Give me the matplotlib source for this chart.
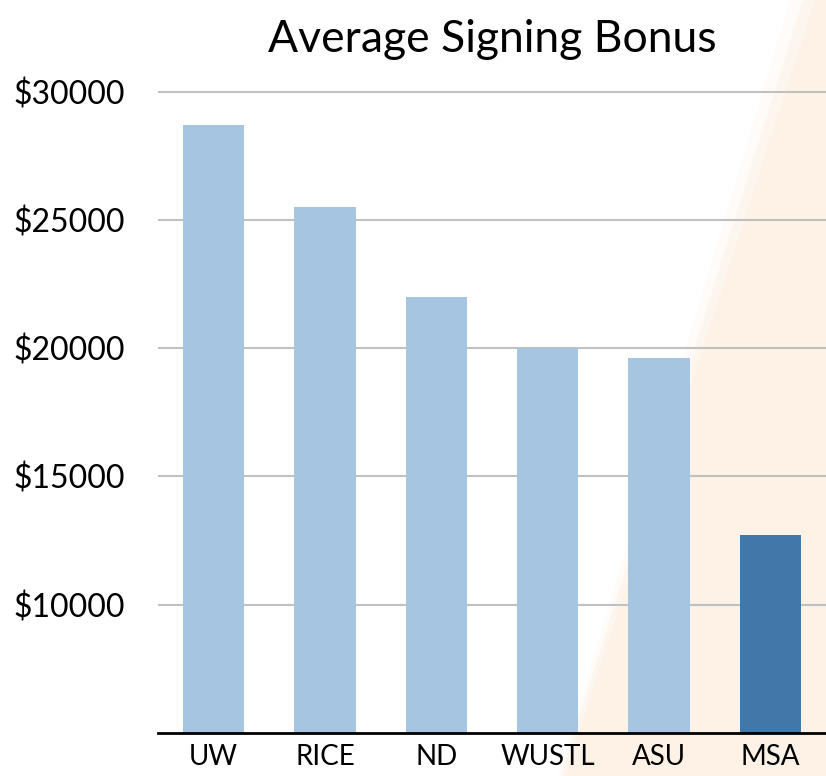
import matplotlib
matplotlib.use('Agg')
import matplotlib.pyplot as plt
from matplotlib.patches import Polygon

# values
schools = ['UW', 'RICE', 'ND', 'WUSTL', 'ASU', 'MSA']
bonus = [28700, 25500, 22000, 20000, 19600, 12700]
y_ticks = [10000, 15000, 20000, 25000, 30000]
y_labels = ['$10000', '$15000', '$20000', '$25000', '$30000']

light_blue = '#a6c5e0'
dark_blue = '#4079a9'
bar_colors = [light_blue] * 5 + [dark_blue]

plt.rcParams['font.family'] = ['Lato', 'DejaVu Sans']

fig = plt.figure(figsize=(8.26, 7.76), dpi=100)

# faint cream wedge in the background on the right side, soft left edge
for shift, alpha in [(0.03, 0.25), (0.015, 0.45), (0.0, 1.0)]:
    wedge = Polygon([(0.987 - shift, 1.0), (1.0, 1.0), (1.0, 0.0), (0.684 - shift * 0.3, 0.0)],
                    closed=True, transform=fig.transFigure,
                    facecolor='#fdf2e5', edgecolor='none', alpha=alpha, zorder=-5)
    fig.patches.append(wedge)

ax = fig.add_axes([0.1913, 0.0554, 0.8087, 0.8595])
ax.patch.set_alpha(0)

ax.bar(range(len(schools)), bonus, width=0.55, color=bar_colors, zorder=3)

ax.set_xlim(-0.5, len(schools) - 0.5)
ax.set_ylim(5000, 31000)
ax.set_yticks(y_ticks)
ax.set_yticklabels(y_labels)
ax.set_xticks(range(len(schools)))
ax.set_xticklabels(schools)

ax.yaxis.grid(True, color='#c0c0c0', linewidth=1.5, zorder=0)
ax.tick_params(axis='y', length=0, pad=24, labelsize=23)
ax.tick_params(axis='x', length=0, pad=8, labelsize=20)

for side in ['top', 'right', 'left']:
    ax.spines[side].set_visible(False)
ax.spines['bottom'].set_linewidth(2)
ax.spines['bottom'].set_color('black')
ax.spines['bottom'].set_zorder(4)

ax.set_title('Average Signing Bonus', fontsize=32, pad=10)

plt.savefig('out.png', dpi=100)
plt.close()
